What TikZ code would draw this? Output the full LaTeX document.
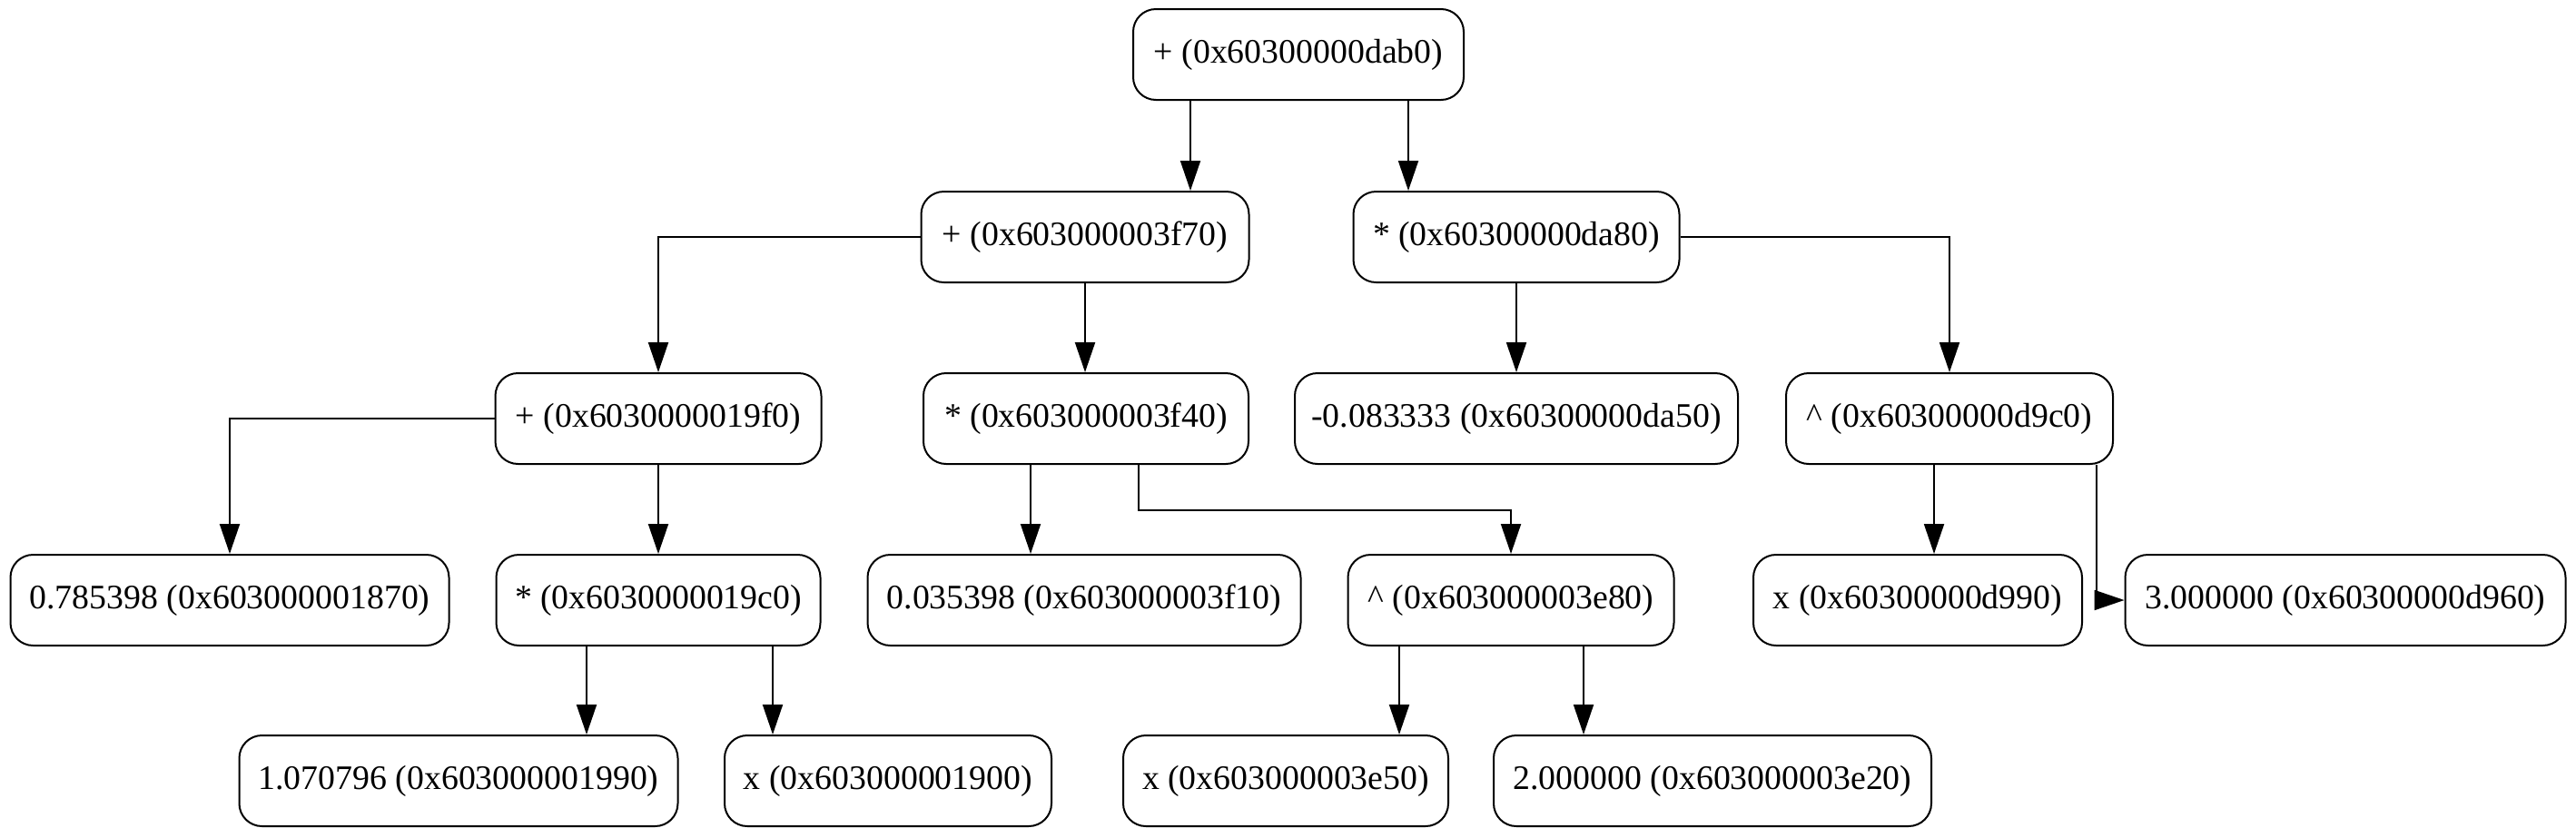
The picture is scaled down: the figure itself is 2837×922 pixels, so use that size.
\documentclass[tikz,border=0pt]{standalone}
\usepackage{fontspec}
\setmainfont{Liberation Serif}
\usetikzlibrary{arrows.meta}
\tikzset{
  tnode/.style={draw, line width=2pt, rounded corners=25pt, minimum height=100pt, inner sep=0pt, font=\fontsize{37.8}{45}\selectfont},
  arr/.style={line width=2pt, -{Triangle[length=33pt,width=22pt]}}
}
\begin{document}
\begin{tikzpicture}[x=1pt,y=-1pt]
\useasboundingbox[fill=white] (0,0) rectangle (2837,922);
% row 1
\node[tnode, minimum width=364pt] (top) at (1430,60) {+ (0x60300000dab0)};
% row 2
\node[tnode, minimum width=361pt] (p3f70) at (1195,261) {+ (0x603000003f70)};
\node[tnode, minimum width=359pt] (mda80) at (1670,261) {* (0x60300000da80)};
% row 3
\node[tnode, minimum width=359pt] (p19f0) at (725,461) {+ (0x6030000019f0)};
\node[tnode, minimum width=358pt] (m3f40) at (1196,461) {* (0x603000003f40)};
\node[tnode, minimum width=488pt] (c083) at (1670,461) {-0.083333 (0x60300000da50)};
\node[tnode, minimum width=360pt] (pwd9c0) at (2147,461) {\^{} (0x60300000d9c0)};
% row 4
\node[tnode, minimum width=483pt] (c785) at (253,661) {0.785398 (0x603000001870)};
\node[tnode, minimum width=357pt] (m19c0) at (725,661) {* (0x6030000019c0)};
\node[tnode, minimum width=477pt] (c035) at (1194,661) {0.035398 (0x603000003f10)};
\node[tnode, minimum width=359pt] (pw3e80) at (1664,661) {\^{} (0x603000003e80)};
\node[tnode, minimum width=362pt] (xd990) at (2112,661) {x (0x60300000d990)};
\node[tnode, minimum width=485pt] (c3) at (2583,661) {3.000000 (0x60300000d960)};
% row 5
\node[tnode, minimum width=483pt] (c1070) at (505,860) {1.070796 (0x603000001990)};
\node[tnode, minimum width=360pt] (x1900) at (978,860) {x (0x603000001900)};
\node[tnode, minimum width=358pt] (x3e50) at (1416,860) {x (0x603000003e50)};
\node[tnode, minimum width=482pt] (c2) at (1886,860) {2.000000 (0x603000003e20)};
% edges
\draw[arr] ([xshift=-119pt]top.south) -- ([xshift=-119pt]top.south |- p3f70.north);
\draw[arr] ([xshift=121pt]top.south) -- ([xshift=121pt]top.south |- mda80.north);
\draw[arr] (p3f70.west) -| (p19f0.north);
\draw[arr] (p3f70.south) -- (p3f70.south |- m3f40.north);
\draw[arr] (mda80.south) -- (mda80.south |- c083.north);
\draw[arr] (mda80.east) -| (pwd9c0.north);
\draw[arr] (p19f0.west) -| (c785.north);
\draw[arr] (p19f0.south) -- (p19f0.south |- m19c0.north);
\draw[arr] ([xshift=-61pt]m3f40.south) -- ([xshift=-61pt]m3f40.south |- c035.north);
\draw[arr] ([xshift=58pt]m3f40.south) -- ++(0,50) -| (pw3e80.north);
\draw[arr] ([xshift=-17pt]pwd9c0.south) -- ([xshift=-17pt]pwd9c0.south |- xd990.north);
\draw[arr] ([xshift=162pt]pwd9c0.south) |- (c3.west);
\draw[arr] ([xshift=-79pt]m19c0.south) -- ([xshift=-79pt]m19c0.south |- c1070.north);
\draw[arr] ([xshift=126pt]m19c0.south) -- ([xshift=126pt]m19c0.south |- x1900.north);
\draw[arr] ([xshift=-123pt]pw3e80.south) -- ([xshift=-123pt]pw3e80.south |- x3e50.north);
\draw[arr] ([xshift=80pt]pw3e80.south) -- ([xshift=80pt]pw3e80.south |- c2.north);
\end{tikzpicture}
\end{document}
